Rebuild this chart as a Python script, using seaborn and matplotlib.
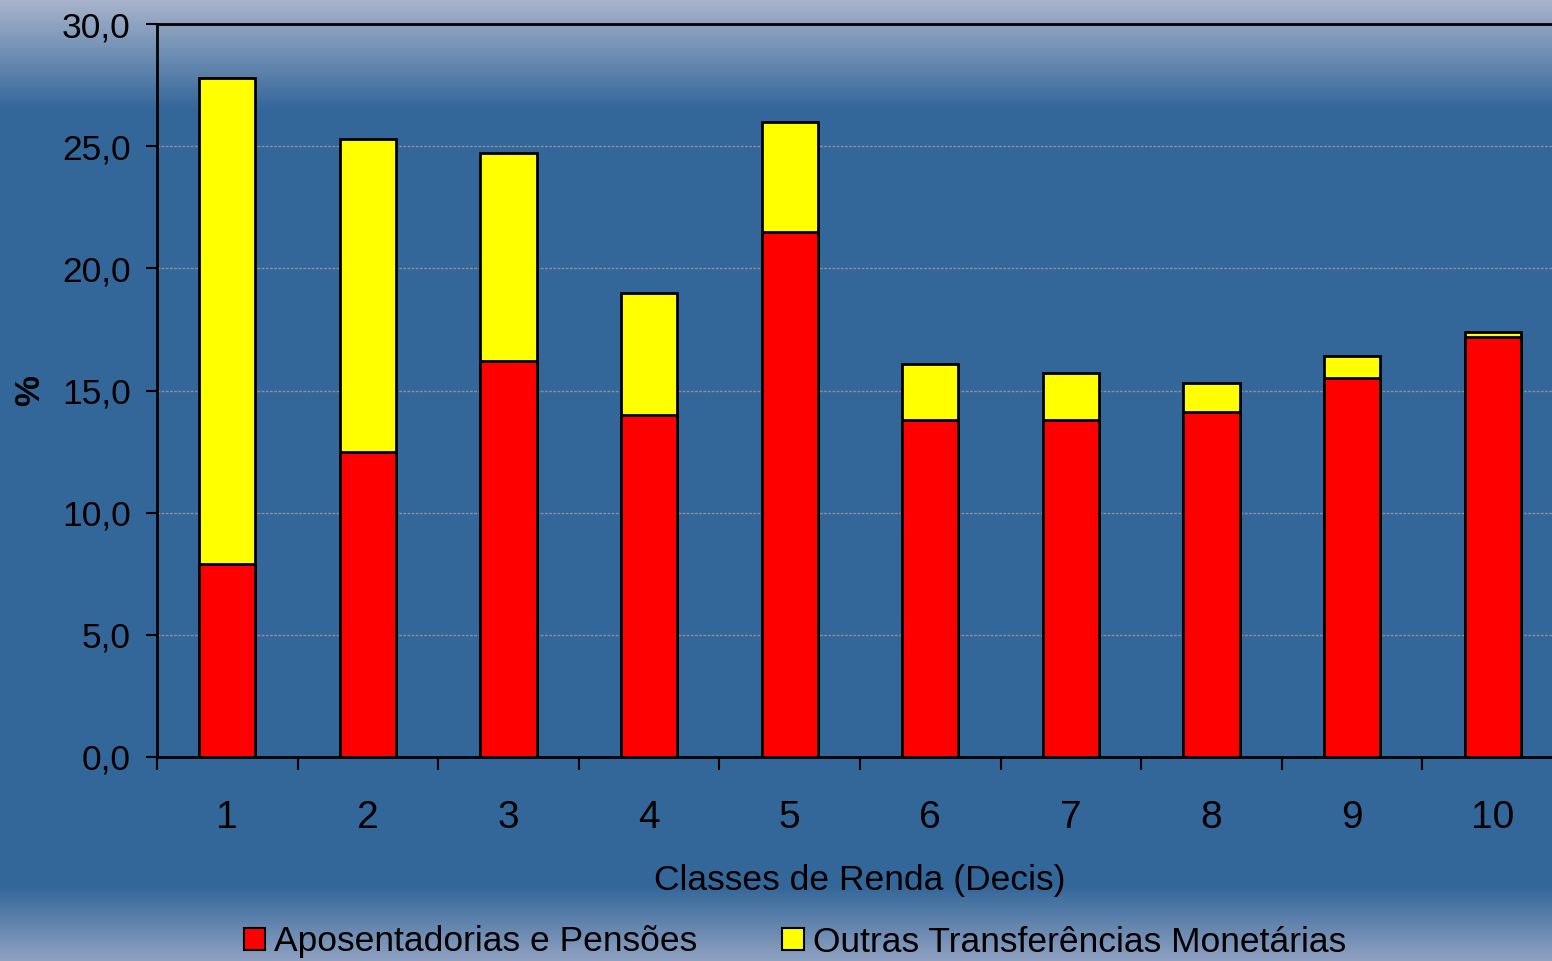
import numpy as np
import pandas as pd
import matplotlib
matplotlib.use("Agg")
import matplotlib.pyplot as plt
from matplotlib.patches import Patch
import seaborn as sns

categories = ["1", "2", "3", "4", "5", "6", "7", "8", "9", "10"]
aposentadorias = [7.9, 12.5, 16.2, 14.0, 21.5, 13.8, 13.8, 14.1, 15.5, 17.2]
outras = [19.9, 12.8, 8.5, 5.0, 4.5, 2.3, 1.9, 1.2, 0.9, 0.2]
yticks = [0, 5, 10, 15, 20, 25, 30]

sns.set_theme(style="white")
plt.rcParams['font.family'] = ['Liberation Sans', 'DejaVu Sans']

df = pd.DataFrame({
    "decil": categories,
    "apos": aposentadorias,
    "total": [a + o for a, o in zip(aposentadorias, outras)],
})

W, H = 1552, 961
fig = plt.figure(figsize=(W / 100, H / 100), dpi=100)

# background gradient
bg = fig.add_axes([0, 0, 1, 1], zorder=-10)
top_c = np.array([0xA8, 0xB4, 0xCC]) / 255
mid_c = np.array([0x33, 0x66, 0x99]) / 255
bot_c = np.array([0x90, 0xA2, 0xC2]) / 255
img = np.zeros((H, 1, 3))
for i in range(H):
    py = i
    if py < 110:
        t = py / 110
        c = top_c * (1 - t) + mid_c * t
    elif py > 885:
        t = (py - 885) / (H - 885)
        c = mid_c * (1 - t) + bot_c * t
    else:
        c = mid_c
    img[i, 0] = c
bg.imshow(img, aspect='auto', extent=[0, 1, 0, 1], origin='upper')
bg.set_axis_off()

ax = fig.add_axes([157 / W, (H - 757) / H, 1406 / W, 733 / H])
ax.set_facecolor('none')

sns.barplot(data=df, x="decil", y="total", color="#FFFF00", edgecolor="black",
            linewidth=2, width=0.4, saturation=1, ax=ax, zorder=3)
sns.barplot(data=df, x="decil", y="apos", color="#FF0000", edgecolor="black",
            linewidth=2, width=0.4, saturation=1, ax=ax, zorder=4)

ax.set_ylim(0, 30)
ax.set_xlim(-0.5, 9.5)
ax.set_yticks(yticks)
ax.set_yticklabels([f"{v:.1f}".replace('.', ',') for v in yticks], fontsize=25.5, color='black')
ax.yaxis.grid(True, color='#8A8F99', linestyle=(0, (2, 1)), linewidth=1, zorder=1)
ax.set_axisbelow(True)

ax.set_xticks(np.arange(-0.5, 10, 1))
ax.set_xticklabels([])
ax.set_xticks(np.arange(10), minor=True)
ax.set_xticklabels(categories, minor=True, fontsize=28, color='black')
ax.tick_params(axis='x', which='major', direction='out', length=9, width=1.5, color='black', bottom=True)
ax.tick_params(axis='x', which='minor', length=0, pad=31)
ax.tick_params(axis='y', direction='out', length=8, width=1.5, color='black', left=True, pad=11)

for s in ['left', 'bottom', 'top']:
    ax.spines[s].set_visible(True)
    ax.spines[s].set_color('black')
    ax.spines[s].set_linewidth(2)
ax.spines['right'].set_visible(False)

ax.set_xlabel("Classes de Renda (Decis)", fontsize=25.5, color='black', labelpad=20)
ax.set_ylabel("%", fontsize=25, fontweight='bold', color='black')
ax.yaxis.set_label_coords((46 - 157) / 1406, 0.5)

handles = [Patch(facecolor="#FF0000", edgecolor="black", linewidth=1.5),
           Patch(facecolor="#FFFF00", edgecolor="black", linewidth=1.5)]
fig.legend(handles, ["Aposentadorias e Pensões", "Outras Transferências Monetárias"],
           loc='center', bbox_to_anchor=(795 / W, 1 - 942 / H), ncol=2, frameon=False,
           fontsize=25.5, handlelength=0.6, handleheight=0.6, handletextpad=0.25,
           columnspacing=2.4, labelcolor='black')

fig.savefig("out.png", dpi=100)
